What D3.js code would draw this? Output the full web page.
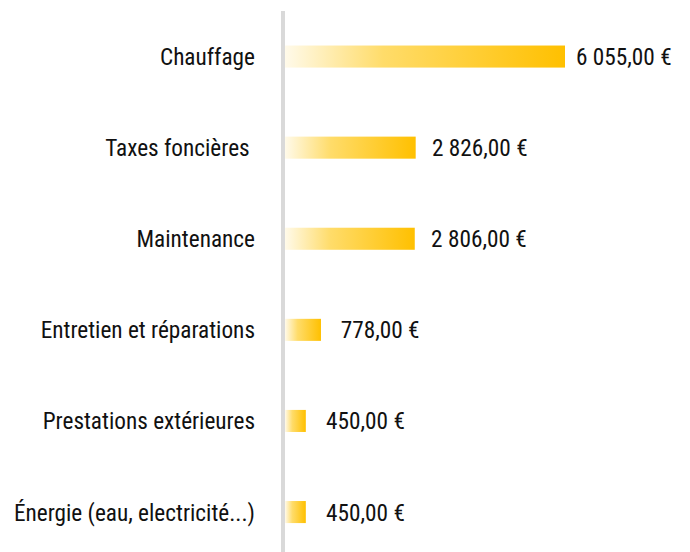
<!DOCTYPE html>
<html>
<head>
<meta charset="utf-8">
<script src="https://cdn.jsdelivr.net/npm/d3@7"></script>
<style>
  html, body { margin: 0; padding: 0; background: #fff; }
  svg { display: block; }
  text { font-family: "Roboto Condensed", Roboto, sans-serif; font-size: 24px; fill: #111; white-space: pre; }
</style>
</head>
<body>
<svg id="chart" width="690" height="552"></svg>
<script>
var categories = ["Chauffage", "Taxes foncières ", "Maintenance", "Entretien et réparations", "Prestations extérieures", "Énergie (eau, electricité...)"];
var values = [6055, 2826, 2806, 778, 450, 450];
var valueLabels = ["6 055,00 €", "2 826,00 €", "2 806,00 €", "778,00 €", "450,00 €", "450,00 €"];

var width = 690, height = 552;
var axisX = 283;
var squeeze = 0.97; // slight narrowing, no condensed face installed

var svg = d3.select("#chart");

var data = categories.map(function (c, i) {
  return { name: c, value: values[i], label: valueLabels[i] };
});

var x = d3.scaleLinear()
    .domain([0, d3.max(values)])
    .range([285, 565]);

// labels sit a little further out on short bars
var xLabel = d3.scaleLinear()
    .domain([0, d3.max(values)])
    .range([306, 576]);

var y = d3.scaleBand()
    .domain(categories)
    .range([11, 557.6])
    .paddingInner(0.758)
    .paddingOuter(0.758 / 2);

var defs = svg.append("defs");
var grad = defs.append("linearGradient")
    .attr("id", "barFill")
    .attr("x1", "0%").attr("x2", "100%")
    .attr("y1", "0%").attr("y2", "0%");
grad.append("stop").attr("offset", "0%").attr("stop-color", "#fffaea");
grad.append("stop").attr("offset", "35%").attr("stop-color", "#ffdc6a");
grad.append("stop").attr("offset", "100%").attr("stop-color", "#ffc000");

// vertical axis line
svg.append("line")
    .attr("x1", axisX).attr("x2", axisX)
    .attr("y1", 11).attr("y2", height)
    .attr("stroke", "#d9d9d9")
    .attr("stroke-width", 4);

svg.selectAll("rect.bar")
    .data(data)
    .enter().append("rect")
    .attr("class", "bar")
    .attr("x", x(0))
    .attr("y", function (d) { return y(d.name); })
    .attr("width", function (d) { return x(d.value) - x(0); })
    .attr("height", y.bandwidth())
    .attr("fill", "url(#barFill)");

// category names
svg.selectAll("text.cat")
    .data(data)
    .enter().append("text")
    .attr("class", "cat")
    .attr("text-anchor", "end")
    .attr("transform", function (d) {
      return "translate(255," + (y(d.name) + y.bandwidth() / 2) + ") scale(" + squeeze + ",1)";
    })
    .attr("dy", "0.355em")
    .text(function (d) { return d.name; });

// value labels
svg.selectAll("text.val")
    .data(data)
    .enter().append("text")
    .attr("class", "val")
    .attr("transform", function (d) {
      return "translate(" + xLabel(d.value) + "," + (y(d.name) + y.bandwidth() / 2) + ") scale(" + squeeze + ",1)";
    })
    .attr("dy", "0.355em")
    .text(function (d) { return d.label; });
</script>
</body>
</html>
